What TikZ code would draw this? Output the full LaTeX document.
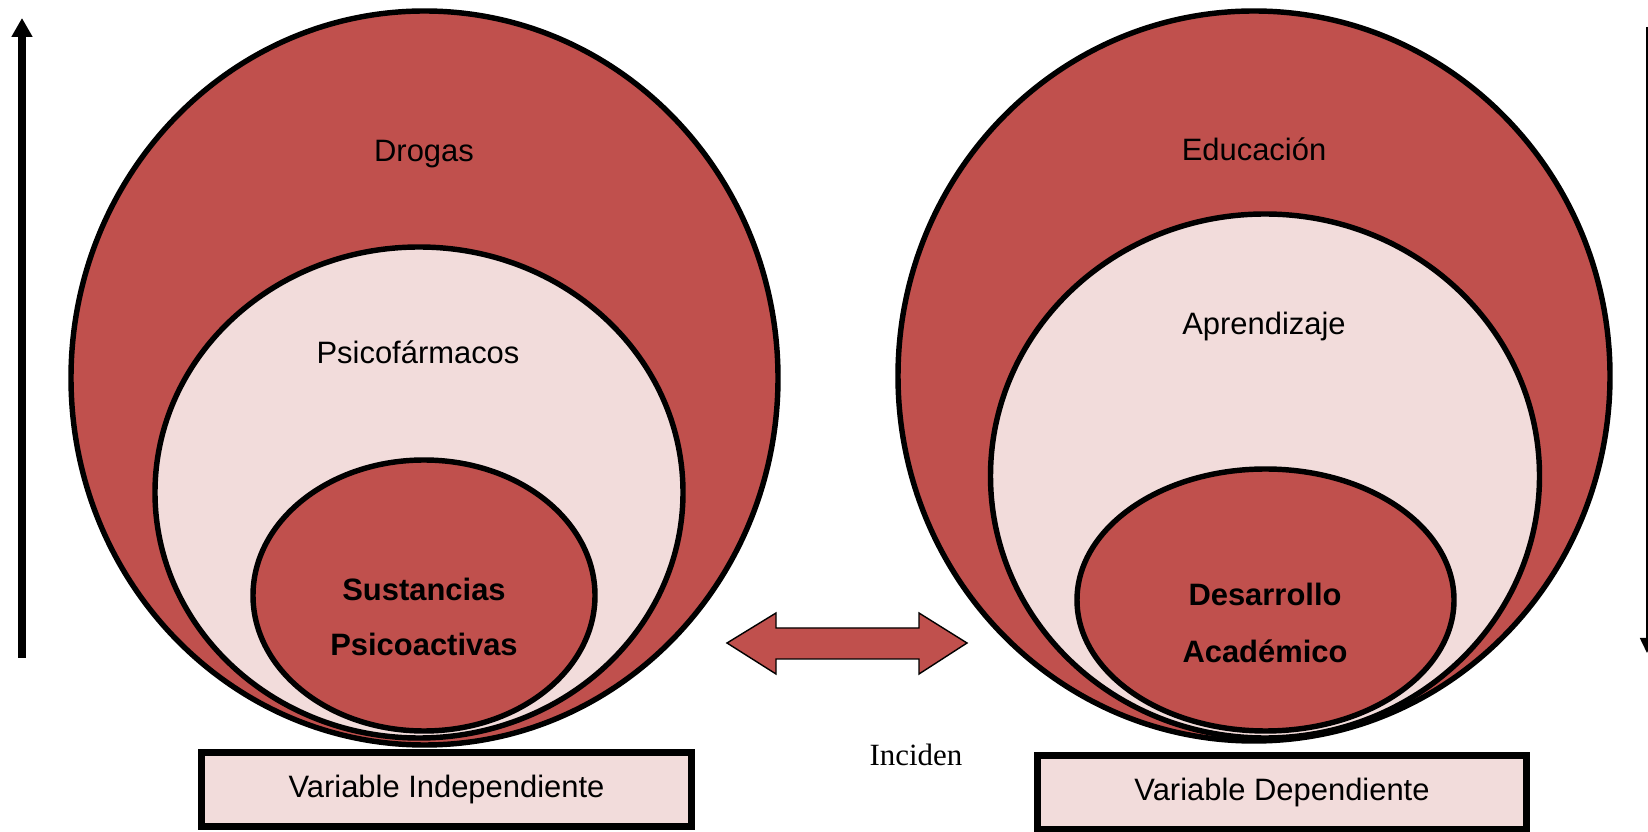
\documentclass[tikz,border=0pt]{standalone}
\usepackage{fontspec}
\setmainfont{Liberation Sans}
\newfontfamily\timesfont{Liberation Serif}
\usepackage{xcolor}
\usepackage{tikz}
\usetikzlibrary{shapes.geometric, arrows.meta, positioning}
\definecolor{redfill}{HTML}{C0504D}
\definecolor{pinkfill}{HTML}{F2DCDB}
\tikzset{every node/.style={font=\fontsize{17.6}{31}\selectfont}}

\begin{document}
\begin{tikzpicture}
    % Define styles
    \tikzstyle{outerring} = [ellipse, draw=black, fill=redfill, line width=3.1pt, inner sep=0pt]
    \tikzstyle{middlering} = [ellipse, draw=black, fill=pinkfill, line width=3.1pt, inner sep=0pt]
    \tikzstyle{innerring} = [ellipse, draw=black, fill=redfill, line width=3.1pt, inner sep=0pt]
    \tikzstyle{varbox} = [rectangle, draw=black, fill=pinkfill, line width=4pt, minimum height=1.48cm, text centered]
    \tikzstyle{label} = [text centered, align=center]
    \tikzstyle{bigarrow} = [line width=4pt, -{Triangle[width=0.4cm, length=0.38cm]}]
    \tikzstyle{thinarrow} = [line width=1pt, -{Triangle[width=0.28cm, length=0.3cm]}]

    \useasboundingbox (0, 0) rectangle (32.96, -16.64);

    % Left circles: independent variable
    \node (drogas) [outerring, minimum width=14.14cm, minimum height=14.68cm] at (8.49, -7.56) {};
    \node (psico) [middlering, minimum width=10.56cm, minimum height=9.82cm] at (8.38, -9.85) {};
    \node (sustancias) [innerring, minimum width=6.84cm, minimum height=5.42cm] at (8.48, -11.91) {};
    \node [label] at (8.48, -3.08) {Drogas};
    \node [label] at (8.36, -7.04) {Psicofármacos};
    \node [label, font=\fontsize{17.6}{31.3}\selectfont\bfseries] at (8.48, -12.33) {Sustancias\\Psicoactivas};

    % Right circles: dependent variable
    \node (educacion) [outerring, minimum width=14.24cm, minimum height=14.60cm] at (25.08, -7.52) {};
    \node (aprendizaje) [middlering, minimum width=10.98cm, minimum height=10.48cm] at (25.30, -9.52) {};
    \node (desarrollo) [innerring, minimum width=7.54cm, minimum height=5.24cm] at (25.31, -12.00) {};
    \node [label] at (25.08, -2.98) {Educación};
    \node [label] at (25.28, -6.54) {Aprendizaje};
    \node [label, font=\fontsize{17.6}{32.4}\selectfont\bfseries] at (25.30, -12.45) {Desarrollo\\Académico};

    % Variable boxes
    \node (indep) [varbox, minimum width=9.8cm] at (8.93, -15.79) {Variable Independiente};
    \node (dep) [varbox, minimum width=9.78cm] at (25.64, -15.85) {Variable Dependiente};

    % Double arrow between the circles
    \draw [fill=redfill, line width=0.8pt] (14.54, -12.86) -- (15.52, -12.26) -- (15.52, -12.56) -- (18.38, -12.56)
        -- (18.38, -12.26) -- (19.34, -12.86) -- (18.38, -13.48) -- (18.38, -13.18)
        -- (15.52, -13.18) -- (15.52, -13.48) -- cycle;
    \node (inciden) [font=\fontsize{17.6}{21}\timesfont] at (18.32, -15.10) {Inciden};

    % Side arrows
    \coordinate (leftlow) at (0.44, -13.16);
    \coordinate (lefttop) at (0.44, -0.36);
    \coordinate (righttop) at (32.94, -0.54);
    \coordinate (rightlow) at (32.94, -13.06);
    \draw [bigarrow] (leftlow) -- (lefttop);
    \draw [thinarrow] (righttop) -- (rightlow);
\end{tikzpicture}
\end{document}
